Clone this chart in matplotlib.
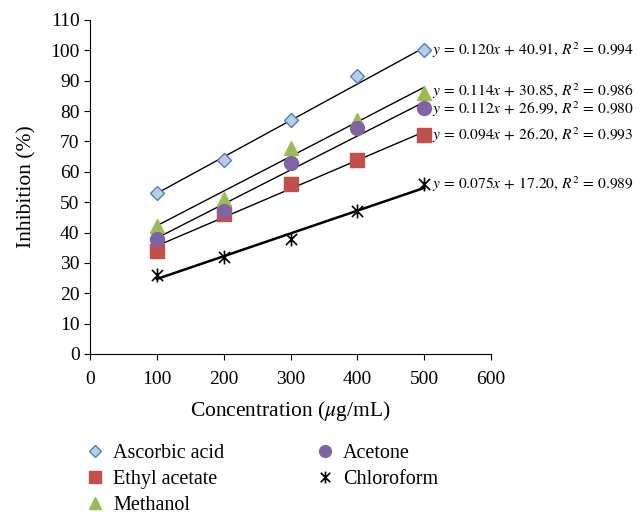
import numpy as np
from matplotlib import pyplot as plt
from matplotlib.path import Path

plt.rcParams['font.family'] = ['Liberation Serif', 'DejaVu Serif']
plt.rcParams['mathtext.fontset'] = 'stix'

conc = [100, 200, 300, 400, 500]
ascorbic = [53, 64, 77, 91.5, 100]
ethyl = [34, 46, 56, 64, 72]
methanol = [42, 51, 68, 77, 86]
acetone = [38, 47, 63, 74.5, 81]
chloro = [26, 32, 38, 47, 56]

# fitted lines as printed on the chart: slope, intercept, R^2
fits = {
    'Ascorbic acid': (0.120, 40.91, 0.994),
    'Ethyl acetate': (0.094, 26.20, 0.993),
    'Methanol': (0.114, 30.85, 0.986),
    'Acetone': (0.112, 26.99, 0.980),
    'Chloroform': (0.075, 17.20, 0.989),
}
# small vertical nudges (points) so the two close labels don't collide
nudge = {'Methanol': 1.5, 'Acetone': -1.0}

star = Path([(0, -1), (0, 1), (-0.8, -0.8), (0.8, 0.8), (-0.8, 0.8), (0.8, -0.8)],
            [Path.MOVETO, Path.LINETO, Path.MOVETO, Path.LINETO, Path.MOVETO, Path.LINETO])

series = [
    ('Ascorbic acid', ascorbic, dict(marker='D', ms=7.5, mfc='#b8cce4', mec='#4f81bd', mew=1.0)),
    ('Ethyl acetate', ethyl, dict(marker='s', ms=9.5, mfc='#c0504d', mec='#c0504d')),
    ('Methanol', methanol, dict(marker='^', ms=10, mfc='#9bbb59', mec='#9bbb59')),
    ('Acetone', acetone, dict(marker='o', ms=10, mfc='#8064a2', mec='#8064a2')),
    ('Chloroform', chloro, dict(marker=star, ms=10, mfc='none', mec='black', mew=1.2)),
]

fig = plt.figure(figsize=(6.39, 5.14), dpi=100)
ax = fig.add_axes([90/639, 1-354/514, 401/639, 334/514])

xf = np.array([100, 500])
for name, vals, st in series:
    m, b, r2 = fits[name]
    lw = 1.8 if name == 'Chloroform' else 1.0
    ax.plot(xf, m*xf+b, color='black', lw=lw, zorder=2)
    ax.plot(conc, vals, ls='none', label=name, zorder=3, **st)
    ax.annotate(r'$y\,=\,%.3fx\,+\,%.2f,\,R^2\,=\,%.3f$' % (m, b, r2),
                xy=(conc[-1], vals[-1]), xytext=(6, nudge.get(name, 0)),
                textcoords='offset points', va='center', ha='left',
                fontsize=11.2, annotation_clip=False)

ax.set_xlim(0, 600)
ax.set_ylim(0, 110)
ax.set_xticks(range(0, 601, 100))
ax.set_yticks(range(0, 111, 10))
ax.tick_params(labelsize=14, direction='out', length=4)
ax.tick_params(axis='x', pad=8)
ax.spines['top'].set_visible(False)
ax.spines['right'].set_visible(False)
ax.set_xlabel(r'Concentration ($\mu$g/mL)', fontsize=15.5, labelpad=8)
ax.set_ylabel('Inhibition (%)', fontsize=15.5, labelpad=10)

h, l = ax.get_legend_handles_labels()
fig.legend(h, l, ncol=2, loc='upper left', bbox_to_anchor=(77/639, 1-436/514),
           frameon=False, fontsize=14.5, handlelength=1.0, handletextpad=0.4,
           columnspacing=4.5, labelspacing=0.35, markerscale=0.85,
           borderaxespad=0)

fig.savefig('out.png', dpi=100)
